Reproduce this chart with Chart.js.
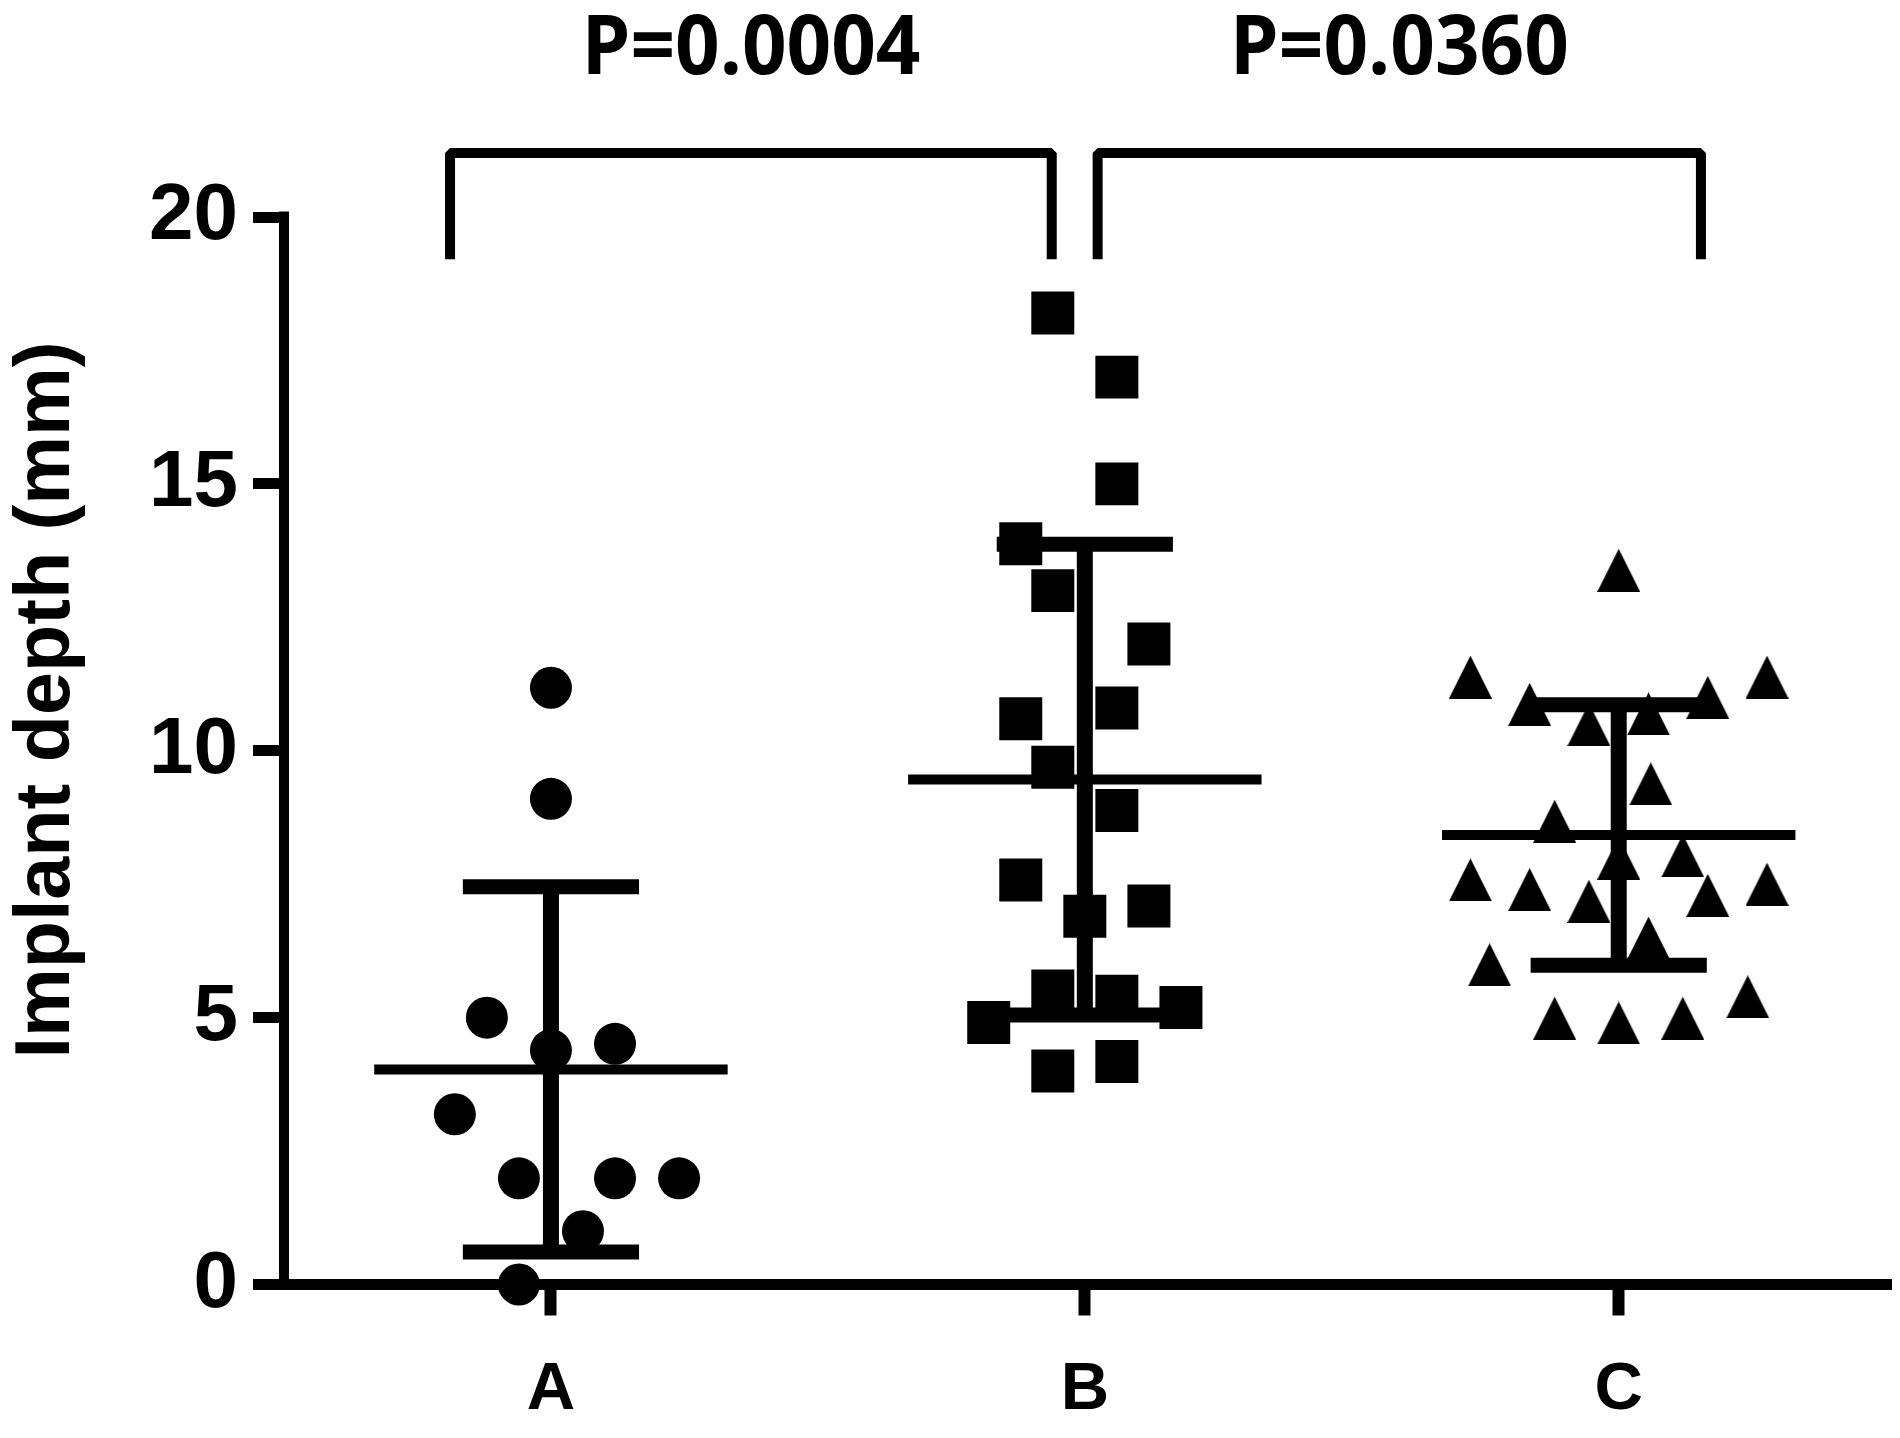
<!DOCTYPE html>
<html>
<head>
<meta charset="utf-8">
<title>Implant depth</title>
<script src="https://cdn.jsdelivr.net/npm/chart.js@4.4.1/dist/chart.umd.min.js"></script>
<style>
    html, body { margin: 0; padding: 0; background: #fff; overflow: hidden; }
    #wrap { width: 1900px; height: 1438px; }
</style>
</head>
<body>
<div id="wrap"><canvas id="depthChart"></canvas></div>
<script>
// groups on the x axis
const groups = ['A', 'B', 'C'];

// implant depth (mm) per animal
const valuesA = [11.18, 9.10, 5.0, 4.39, 4.51, 3.19, 1.99, 1.99, 1.99, 1.0, 0.0];
const valuesB = [18.2, 17.0, 15.0, 13.88, 13.0, 12.0, 10.6, 10.8, 9.69, 8.88,
                 7.58, 6.9, 7.09, 5.5, 5.4, 4.91, 5.19, 4.0, 4.18];
const valuesC = [13.38, 11.38, 11.38, 10.87, 11.0, 10.49, 10.69, 9.38, 8.68, 8.03, 7.99,
                 7.58, 7.4, 7.18, 7.29, 7.5, 6.49, 5.99, 5.39, 4.99, 4.9, 4.99];

// scatter column of each point (how far it was nudged sideways in the figure)
const slotsA = [0, 0, -2, 0, 2, -3, -1, 2, 4, 1, -1];
const slotsB = [-1, 1, 1, -2, -1, 2, -2, 1, -1, 1, -2, 0, 2, -1, 1, -3, 3, -1, 1];
const slotsC = [0, -4.63, 4.63, -2.78, 2.78, -0.93, 0.93, 1, -2, 2, 0,
                -4.63, -2.78, -0.93, 2.78, 4.63, 0.93, -4.03, 4.03, -2, 0, 2];

// mean and SD bars as drawn
const means = [4.03, 9.46, 8.42];
const sds = [3.42, 4.41, 2.44];

const yTicks = [0, 5, 10, 15, 20];
const yTitle = 'Implant depth (mm)';

// pairwise comparisons shown above the plot
const comparePairs = [[0, 1], [1, 2]];
const pLabels = ['P=0.0004', 'P=0.0360'];

// ---- layout / style (not data) ----
const SLOT = 0.06;          // x units per scatter column
const MEAN_HALF = 0.331;    // half width of mean line (x units)
const CAP_HALF = 0.165;     // half width of SD caps
const bracketX = [[0.811, 1.938], [2.024, 3.154]];
const BRACKET_TOP = 21.2, BRACKET_FOOT = 19.21, P_BASE = 22.68;
const BOLD = '"Liberation Sans", Arial, sans-serif';

function makeTriangle(size) {
    const c = document.createElement('canvas');
    c.width = size; c.height = size;
    const g = c.getContext('2d');
    g.fillStyle = '#000';
    g.beginPath();
    g.moveTo(0, size);
    g.lineTo(size / 2, 0);
    g.lineTo(size, size);
    g.closePath();
    g.fill();
    return c;
}

function toPoints(values, slots, idx) {
    return values.map((v, i) => ({ x: idx + 1 + slots[i] * SLOT, y: v }));
}

const decorPlugin = {
    id: 'decor',
    afterDatasetsDraw(chart) {
        const ctx = chart.ctx;
        const xs = chart.scales.x, ys = chart.scales.y;
        const area = chart.chartArea;
        ctx.save();
        ctx.strokeStyle = '#000';
        ctx.fillStyle = '#000';
        ctx.lineCap = 'butt';

        // mean +/- SD
        means.forEach((m, i) => {
            const c = i + 1;
            const yTop = ys.getPixelForValue(m + sds[i]);
            const yBot = ys.getPixelForValue(m - sds[i]);
            ctx.lineWidth = 16;
            ctx.beginPath();
            ctx.moveTo(xs.getPixelForValue(c), yTop);
            ctx.lineTo(xs.getPixelForValue(c), yBot);
            ctx.stroke();
            ctx.lineWidth = 15;
            [yTop, yBot].forEach(py => {
                ctx.beginPath();
                ctx.moveTo(xs.getPixelForValue(c - CAP_HALF), py);
                ctx.lineTo(xs.getPixelForValue(c + CAP_HALF), py);
                ctx.stroke();
            });
            ctx.lineWidth = 10;
            const pm = ys.getPixelForValue(m);
            ctx.beginPath();
            ctx.moveTo(xs.getPixelForValue(c - MEAN_HALF), pm);
            ctx.lineTo(xs.getPixelForValue(c + MEAN_HALF), pm);
            ctx.stroke();
        });

        // axis stubs: x axis runs out under the y ticks, y axis covers the top tick
        const y0 = ys.getPixelForValue(0);
        ctx.lineWidth = 11;
        ctx.beginPath();
        ctx.moveTo(area.left - 31, y0);
        ctx.lineTo(area.left, y0);
        ctx.stroke();
        ctx.fillRect(area.left - 5, area.top - 5.5, 10, 6);

        // brackets and P values
        ctx.lineWidth = 10;
        ctx.lineJoin = 'bevel';
        comparePairs.forEach((pair, i) => {
            const xl = xs.getPixelForValue(bracketX[i][0]);
            const xr = xs.getPixelForValue(bracketX[i][1]);
            const yt = ys.getPixelForValue(BRACKET_TOP);
            const yf = ys.getPixelForValue(BRACKET_FOOT);
            ctx.beginPath();
            ctx.moveTo(xl, yf);
            ctx.lineTo(xl, yt);
            ctx.lineTo(xr, yt);
            ctx.lineTo(xr, yf);
            ctx.stroke();

            ctx.font = 'bold 83px "Open Sans", ' + BOLD;
            const w = ctx.measureText(pLabels[i]).width;
            ctx.save();
            ctx.translate((xl + xr) / 2, ys.getPixelForValue(P_BASE));
            ctx.scale(339 / w, 1);
            ctx.textAlign = 'center';
            ctx.textBaseline = 'alphabetic';
            ctx.fillText(pLabels[i], 0, 0);
            ctx.restore();
        });

        // y axis title
        ctx.font = 'bold 77px ' + BOLD;
        const tw = ctx.measureText(yTitle).width;
        ctx.translate(69, 700);
        ctx.rotate(-Math.PI / 2);
        ctx.scale(717 / tw, 1);
        ctx.textAlign = 'center';
        ctx.textBaseline = 'alphabetic';
        ctx.fillText(yTitle, 0, 0);
        ctx.restore();
    }
};

new Chart(document.getElementById('depthChart'), {
    type: 'scatter',
    data: {
        datasets: [
            {
                label: groups[0],
                data: toPoints(valuesA, slotsA, 0),
                pointStyle: 'circle',
                pointRadius: 21,
                backgroundColor: '#000',
                borderWidth: 0,
                clip: false
            },
            {
                label: groups[1],
                data: toPoints(valuesB, slotsB, 1),
                pointStyle: 'rect',
                pointRadius: 30.4,
                backgroundColor: '#000',
                borderWidth: 0,
                clip: false
            },
            {
                label: groups[2],
                data: toPoints(valuesC, slotsC, 2),
                pointStyle: makeTriangle(43),
                pointRadius: 22,
                backgroundColor: '#000',
                borderWidth: 0,
                clip: false
            }
        ]
    },
    options: {
        responsive: true,
        maintainAspectRatio: false,
        animation: false,
        events: [],
        layout: { autoPadding: false, padding: { top: 217, right: 9, left: 0, bottom: 0 } },
        plugins: {
            legend: { display: false },
            tooltip: { enabled: false }
        },
        scales: {
            x: {
                type: 'linear',
                min: 0.5,
                max: 3.51,
                afterBuildTicks: s => { s.ticks = groups.map((g, i) => ({ value: i + 1 })); },
                afterFit: s => { s.height = 153.5; s.paddingLeft = 0; s.paddingRight = 0; },
                border: { color: '#000', width: 11 },
                grid: {
                    drawOnChartArea: false,
                    color: '#000',
                    tickColor: '#000',
                    tickLength: 31,
                    tickWidth: 12
                },
                ticks: {
                    color: '#000',
                    padding: 35,
                    maxRotation: 0,
                    font: { family: BOLD, size: 67, weight: 'bold' },
                    callback: v => groups[v - 1] || ''
                }
            },
            y: {
                min: 0,
                max: 20,
                afterBuildTicks: s => { s.ticks = yTicks.map(v => ({ value: v })); },
                afterFit: s => { s.width = 284; },
                border: { color: '#000', width: 10 },
                grid: {
                    drawOnChartArea: false,
                    color: '#000',
                    tickColor: '#000',
                    tickLength: 31,
                    tickWidth: 11
                },
                ticks: {
                    color: '#000',
                    padding: 15,
                    font: { family: BOLD, size: 80, weight: 'bold' }
                }
            }
        }
    },
    plugins: [decorPlugin]
});
</script>
</body>
</html>
